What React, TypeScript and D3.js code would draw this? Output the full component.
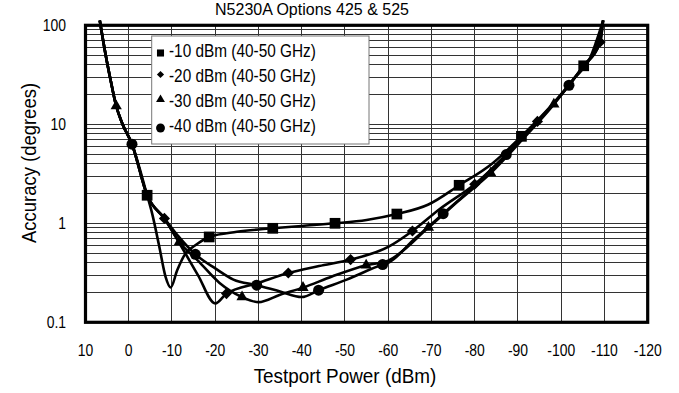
import React from "react";
import * as d3 from "d3";

const W = 679;
const H = 393;

const chartTitle = "N5230A Options 425 & 525";
const xTitle = "Testport Power (dBm)";
const yTitle = "Accuracy (degrees)";

const xTicks = [10, 0, -10, -20, -30, -40, -50, -60, -70, -80, -90, -100, -110, -120];
const yTicks = [0.1, 1, 10, 100];
const yTickLabels = ["0.1", "1", "10", "100"];

const legendLabels = [
  "-10 dBm (40-50 GHz)",
  "-20 dBm (40-50 GHz)",
  "-30 dBm (40-50 GHz)",
  "-40 dBm (40-50 GHz)",
];

// -10 dBm series (squares)
const sqPower = [6.7, 5.4, 4.2, 2.9, 1.5, -0.75, -4.25, -5.4, -7, -8.5, -9.7, -11.2, -13.1, -15.4, -18.6, -25, -33.3, -40, -47.7, -55, -62, -69.3, -76.4, -84, -90.8, -98, -105.2, -108, -109.7];
const sqAcc = [112, 52, 28, 15.3, 10.2, 6.3, 1.92, 1.26, 0.6, 0.29, 0.225, 0.335, 0.494, 0.6, 0.728, 0.82, 0.89, 0.94, 1.0, 1.08, 1.24, 1.55, 2.42, 4.0, 7.56, 16, 39, 58, 112];
const sqMark = [0, 0, 0, 0, 0, 0, 1, 0, 0, 0, 0, 0, 0, 0, 1, 0, 1, 0, 1, 0, 1, 0, 1, 0, 1, 0, 1, 0, 0];

// -20 dBm series (diamonds)
const dmPower = [6.7, 5.4, 4.2, 2.9, 1.5, -0.75, -4.25, -8.25, -12, -16, -20, -22.6, -30, -36.9, -44, -51.3, -60, -65.6, -72, -80, -87, -94.5, -101.8, -105.2, -109, -109.7];
const dmAcc = [112, 52, 28, 15.3, 10.2, 6.3, 1.92, 1.12, 0.6, 0.3, 0.155, 0.195, 0.25, 0.315, 0.37, 0.43, 0.577, 0.836, 1.4, 2.48, 4.8, 10.7, 24.8, 39, 67.8, 112];
const dmMark = [0, 0, 0, 0, 0, 0, 0, 1, 0, 0, 0, 1, 0, 1, 0, 1, 0, 1, 0, 1, 0, 1, 0, 0, 1, 0];

// -30 dBm series (triangles)
const trPower = [6.7, 5.4, 4.2, 2.9, 1.5, -0.75, -4.25, -8.25, -11.7, -16, -21, -26.2, -30, -35, -40.3, -47, -54.9, -60, -69.3, -76, -83.7, -91, -98.3, -103, -106.5, -109.7];
const trAcc = [112, 52, 28, 15.3, 10.2, 6.3, 1.92, 1.12, 0.647, 0.42, 0.25, 0.18, 0.16, 0.19, 0.224, 0.29, 0.377, 0.42, 0.905, 1.65, 3.22, 7.0, 15.9, 29, 45, 112];
const trMark = [0, 0, 0, 1, 0, 0, 0, 0, 1, 0, 0, 1, 0, 0, 1, 0, 1, 0, 1, 0, 1, 0, 1, 0, 0, 0];

// -40 dBm series (circles)
const ciPower = [6.7, 5.4, 4.2, 2.9, 1.5, -0.75, -4.25, -8.25, -11.7, -15.4, -20, -24.2, -29.6, -35, -40, -43.9, -50.4, -58.7, -60, -66, -72.7, -80, -87.3, -94.5, -101.8, -105.2, -109, -109.7];
const ciAcc = [112, 52, 28, 15.3, 10.2, 6.3, 1.92, 1.12, 0.72, 0.486, 0.35, 0.27, 0.237, 0.205, 0.18, 0.211, 0.27, 0.383, 0.4, 0.69, 1.25, 2.4, 4.94, 10.5, 24.8, 39, 67.8, 112];
const ciMark = [0, 0, 0, 0, 0, 1, 0, 0, 0, 1, 0, 0, 1, 0, 0, 1, 0, 1, 0, 0, 1, 0, 1, 0, 1, 0, 0, 0];

const FONT = "'Liberation Sans', Arial, sans-serif";

const diamondSymbol = {
  draw(context: any, size: number) {
    const r = Math.sqrt(size / 2);
    context.moveTo(0, -r);
    context.lineTo(r, 0);
    context.lineTo(0, r);
    context.lineTo(-r, 0);
    context.closePath();
  },
};

const squareSymbol = {
  draw(context: any, size: number) {
    const h = Math.sqrt(size) / 2;
    context.rect(-h, -h, h * 2, h * 2);
  },
};

function NText(props: {
  x: number;
  y: number;
  size: number;
  sx: number;
  anchor?: string;
  rotate?: number;
  children: any;
}) {
  const { x, y, size, sx, anchor, rotate, children } = props;
  const tf = `translate(${x},${y})${rotate ? ` rotate(${rotate})` : ""} scale(${sx},1)`;
  return (
    <text transform={tf} fontSize={size} textAnchor={anchor || "start"} fill="#000">
      {children}
    </text>
  );
}

export default function App() {
  const left = 85.5, right = 647.7, top = 25.3, bottom = 322.3;
  const x = d3.scaleLinear().domain([10, -120]).range([left, right]);
  const y = d3.scaleLog().domain([0.1, 100]).range([bottom, top]);

  const line = d3
    .line<[number, number]>()
    .x((d) => x(d[0]))
    .y((d) => y(d[1]))
    .curve(d3.curveMonotoneX);

  const series = [
    { p: sqPower, a: sqAcc, m: sqMark, sym: squareSymbol, size: 115, lsize: 50 },
    { p: dmPower, a: dmAcc, m: dmMark, sym: diamondSymbol, size: 62, lsize: 26 },
    { p: trPower, a: trAcc, m: trMark, sym: d3.symbolTriangle, size: 55, lsize: 34 },
    { p: ciPower, a: ciAcc, m: ciMark, sym: d3.symbolCircle, size: 95, lsize: 62 },
  ];

  const minorY = y.ticks();
  const gridX = xTicks.filter((v) => v < 10 && v > -120);

  const legendRowsY = [53, 74.5, 99.5, 128];
  const legendTextY = [56.7, 81.7, 107.3, 132.3];

  return (
    <svg
      width={W}
      height={H}
      style={{ position: "absolute", left: 0, top: 0, background: "#fff" }}
      fontFamily={FONT}
    >
      <rect x={0} y={0} width={W} height={H} fill="#fff" />
      <NText x={312} y={15.2} size={16.5} sx={0.97} anchor="middle">
        {chartTitle}
      </NText>

      {/* grid */}
      <g stroke="#333" strokeWidth={1} shapeRendering="crispEdges">
        {minorY.map((v, i) => (
          <line key={"h" + i} x1={left} x2={right} y1={y(v)} y2={y(v)} />
        ))}
        {gridX.map((v) => (
          <line key={"v" + v} x1={x(v)} x2={x(v)} y1={top} y2={bottom} />
        ))}
      </g>

      {/* frame */}
      <rect
        x={left}
        y={top}
        width={right - left}
        height={bottom - top}
        fill="none"
        stroke="#000"
        strokeWidth={3.2}
      />

      {/* series lines */}
      {series.map((s, si) => (
        <path
          key={"l" + si}
          d={line(s.p.map((p, i) => [p, s.a[i]] as [number, number])) || ""}
          fill="none"
          stroke="#000"
          strokeWidth={2.6}
          strokeLinejoin="round"
        />
      ))}

      {/* markers */}
      {series.map((s, si) =>
        s.p.map((p, i) =>
          s.m[i] ? (
            <path
              key={"m" + si + "-" + i}
              transform={`translate(${x(p)},${y(s.a[i])})`}
              d={d3.symbol(s.sym as any, s.size)() || ""}
              fill="#000"
            />
          ) : null
        )
      )}

      {/* y ticks */}
      {yTicks.map((v, i) => (
        <NText key={"yt" + v} x={66} y={y(v) + 5.8} size={16} sx={0.87} anchor="end">
          {yTickLabels[i]}
        </NText>
      ))}

      {/* x ticks */}
      {xTicks.map((v) => (
        <NText key={"xt" + v} x={x(v)} y={355.5} size={16} sx={0.87} anchor="middle">
          {String(v)}
        </NText>
      ))}

      <NText x={345} y={383} size={21} sx={0.9} anchor="middle">
        {xTitle}
      </NText>
      <NText x={36} y={163} size={21} sx={0.88} anchor="middle" rotate={-90}>
        {yTitle}
      </NText>

      {/* legend */}
      <rect x={151.7} y={36} width={217.3} height={108} fill="#fff" stroke="#777" strokeWidth={1} />
      {series.map((s, si) => (
        <g key={"lg" + si}>
          <path
            transform={`translate(160.5,${legendRowsY[si]})`}
            d={d3.symbol(s.sym as any, s.lsize)() || ""}
            fill="#000"
          />
          <NText x={169} y={legendTextY[si]} size={18.7} sx={0.822}>
            {legendLabels[si]}
          </NText>
        </g>
      ))}
    </svg>
  );
}
